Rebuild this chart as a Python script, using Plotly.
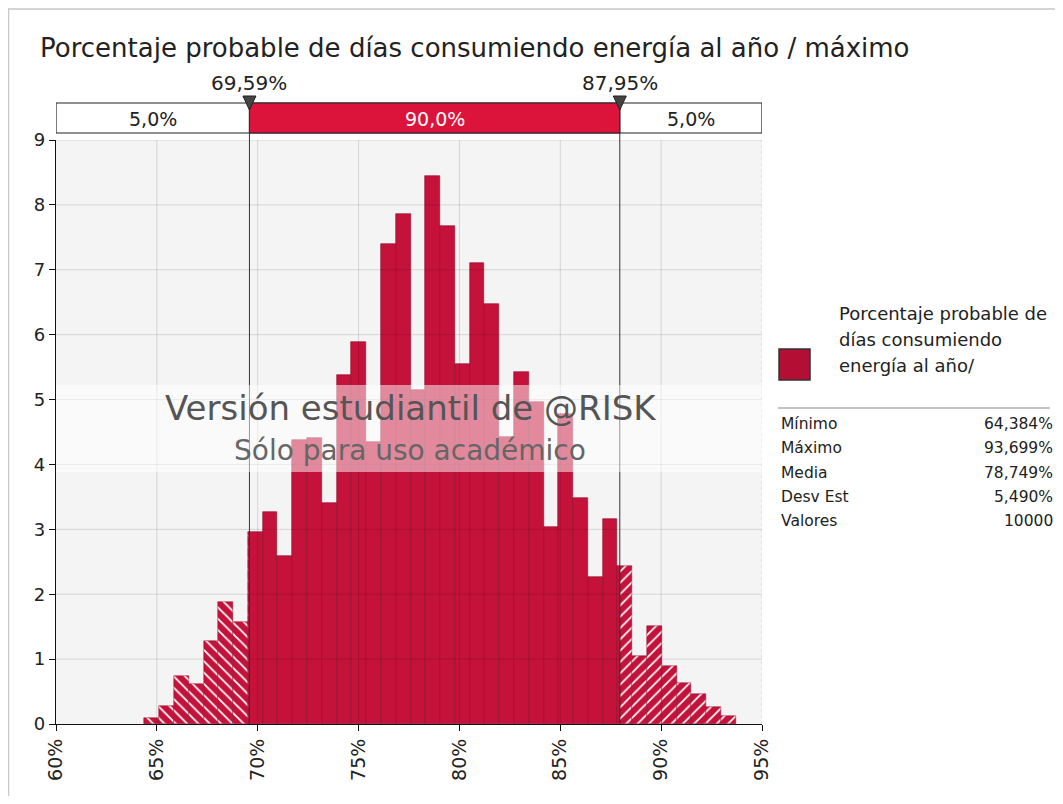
import plotly.graph_objects as go

# ---------------- data ----------------
title_text = "Porcentaje probable de días consumiendo energía al año / máximo"
bin_min = 64.384
bin_max = 93.699
n_bins = 40
densities = [0.10, 0.28, 0.74, 0.62, 1.28, 1.88, 1.57, 2.96, 3.27, 2.59,
             4.37, 4.41, 3.40, 5.38, 5.88, 4.35, 7.40, 7.86, 5.15, 8.45,
             7.67, 5.55, 7.11, 6.47, 4.42, 5.42, 4.96, 3.03, 4.77, 3.49,
             2.26, 3.16, 2.44, 1.05, 1.51, 0.90, 0.63, 0.47, 0.26, 0.13]
delimiters = [69.59, 87.95]
delimiter_labels = ["69,59%", "87,95%"]
region_labels = ["5,0%", "90,0%", "5,0%"]
x_ticks = [60, 65, 70, 75, 80, 85, 90, 95]
x_ticklabels = ["60%", "65%", "70%", "75%", "80%", "85%", "90%", "95%"]
y_ticks = [0, 1, 2, 3, 4, 5, 6, 7, 8, 9]
legend_name = ["Porcentaje probable de", "días consumiendo", "energía al año/"]
stat_names = ["Mínimo", "Máximo", "Media", "Desv Est", "Valores"]
stat_values = ["64,384%", "93,699%", "78,749%", "5,490%", "10000"]
watermark = ["Versión estudiantil de @RISK", "Sólo para uso académico"]

# ---------------- geometry (page pixels; page has an 8px body margin) ----------------
PAGE_W, PAGE_H = 1063, 804
OFF = 8
W, H = PAGE_W - 2 * OFF, PAGE_H - 2 * OFF
L, R, T, B = 56, 762, 140, 724          # plot area in page pixels
XMIN, XMAX, YMIN, YMAX = 60, 95, 0, 9


def px(x):
    return (x - L) / (R - L)


def py(y):
    return (B - y) / (B - T)


RED = "#c5123b"
EDGE = "#8c0a26"
FONT = "DejaVu Sans"
TXT = "#222"

bw = (bin_max - bin_min) / n_bins
d1, d2 = delimiters
segs = {"left": ([], [], []), "mid": ([], [], []), "right": ([], [], [])}
for i, h in enumerate(densities):
    lo = bin_min + i * bw
    hi = lo + bw
    parts = [("left", lo, min(hi, d1)), ("mid", max(lo, d1), min(hi, d2)),
             ("right", max(lo, d2), hi)]
    for key, a, b in parts:
        if b > a:
            segs[key][0].append((a + b) / 2)
            segs[key][1].append(b - a)
            segs[key][2].append(h)

fig = go.Figure()
for key, shape in (("left", "\\"), ("right", "/")):
    xs, ws, hs = segs[key]
    fig.add_trace(go.Bar(x=xs, y=hs, width=ws, showlegend=False,
                         marker=dict(color=RED, line=dict(color=EDGE, width=0.5),
                                     pattern=dict(shape=shape, fgcolor="white", bgcolor=RED,
                                                  size=8, solidity=0.22, fillmode="replace")),
                         hoverinfo="skip"))
xs, ws, hs = segs["mid"]
fig.add_trace(go.Bar(x=xs, y=hs, width=ws, showlegend=False,
                     marker=dict(color=RED, line=dict(color=EDGE, width=0.6)),
                     hoverinfo="skip"))

shapes = []
# grid lines drawn on top of bars (as in the reference)
for yv in y_ticks[1:]:
    shapes.append(dict(type="line", xref="paper", yref="y", x0=0, x1=1, y0=yv, y1=yv,
                       line=dict(color="rgba(0,0,0,0.13)", width=1), layer="above"))
for xv in x_ticks[1:-1]:
    shapes.append(dict(type="line", xref="x", yref="paper", x0=xv, x1=xv, y0=0, y1=1,
                       line=dict(color="rgba(0,0,0,0.13)", width=1), layer="above"))
shapes.append(dict(type="line", xref="x", yref="paper", x0=XMAX, x1=XMAX, y0=0, y1=1,
                   line=dict(color="rgba(0,0,0,0.15)", width=1, dash="dot"), layer="above"))

# delimiter bar at top
bar_y0, bar_y1 = py(133), py(103)
shapes.append(dict(type="rect", xref="x", yref="paper", x0=XMIN, x1=XMAX, y0=bar_y0, y1=bar_y1,
                   fillcolor="white", line=dict(color="#222", width=1.2), layer="above"))
shapes.append(dict(type="rect", xref="x", yref="paper", x0=d1, x1=d2, y0=bar_y0, y1=bar_y1,
                   fillcolor="#dc143c", line=dict(color="#222", width=1.2), layer="above"))
for d in delimiters:
    shapes.append(dict(type="line", xref="x", yref="paper", x0=d, x1=d, y0=0, y1=bar_y1,
                       line=dict(color="#333", width=1), layer="above"))
    # delimiter triangle (pixel-sized, anchored at the delimiter value)
    shapes.append(dict(type="path", xref="x", yref="paper", xsizemode="pixel", ysizemode="pixel",
                       xanchor=d, yanchor=py(110), path="M -6.5,14 L 6.5,14 L 0,0 Z",
                       fillcolor="#444", line=dict(color="#222", width=1), layer="above"))

# watermark band
shapes.append(dict(type="rect", xref="paper", yref="paper", x0=0, x1=px(772), y0=py(472), y1=py(385),
                   fillcolor="rgba(255,255,255,0.5)", line=dict(width=0), layer="above"))

# legend swatch and separator
shapes.append(dict(type="rect", xref="paper", yref="paper", x0=px(779), x1=px(810), y0=py(380), y1=py(349),
                   fillcolor="#b30f34", line=dict(color="#333", width=1.5), layer="above"))
shapes.append(dict(type="line", xref="paper", yref="paper", x0=px(778), x1=px(1050), y0=py(408), y1=py(408),
                   line=dict(color="#888", width=1.2), layer="above"))
# outer frame
shapes.append(dict(type="rect", xref="paper", yref="paper", x0=px(8.5), x1=px(1075), y0=py(815), y1=py(9),
                   fillcolor="rgba(0,0,0,0)", line=dict(color="#c8c8c8", width=1.5), layer="below"))

annotations = []
annotations.append(dict(text=title_text, xref="paper", yref="paper", x=px(38), y=py(48),
                        xanchor="left", yanchor="middle", showarrow=False,
                        font=dict(family=FONT, size=26, color=TXT)))
for d, lab in zip(delimiters, delimiter_labels):
    annotations.append(dict(text=lab, xref="x", yref="paper", x=d, y=py(83), xanchor="center",
                            yanchor="middle", showarrow=False, font=dict(family=FONT, size=20, color=TXT)))
centers = [(XMIN + d1) / 2, (d1 + d2) / 2, (d2 + XMAX) / 2]
for c, lab, col in zip(centers, region_labels, [TXT, "white", TXT]):
    annotations.append(dict(text=lab, xref="x", yref="paper", x=c, y=py(119), xanchor="center",
                            yanchor="middle", showarrow=False, font=dict(family=FONT, size=19, color=col)))
annotations.append(dict(text=watermark[0], xref="paper", yref="paper", x=px(411), y=py(408),
                        xanchor="center", yanchor="middle", showarrow=False,
                        font=dict(family=FONT, size=34, color="#555")))
annotations.append(dict(text=watermark[1], xref="paper", yref="paper", x=px(410), y=py(450),
                        xanchor="center", yanchor="middle", showarrow=False,
                        font=dict(family=FONT, size=28, color="#666")))
for i, line in enumerate(legend_name):
    annotations.append(dict(text=line, xref="paper", yref="paper", x=px(837), y=py(313 + 26 * i),
                            xanchor="left", yanchor="middle", showarrow=False,
                            font=dict(family=FONT, size=18, color=TXT)))
for i, (n, v) in enumerate(zip(stat_names, stat_values)):
    yy = py(424 + 24.3 * i)
    annotations.append(dict(text=n, xref="paper", yref="paper", x=px(779), y=yy, xanchor="left",
                            yanchor="middle", showarrow=False, font=dict(family=FONT, size=15.5, color=TXT)))
    annotations.append(dict(text=v, xref="paper", yref="paper", x=px(1055), y=yy, xanchor="right",
                            yanchor="middle", showarrow=False, font=dict(family=FONT, size=15.5, color=TXT)))

fig.update_layout(
    width=W, height=H,
    margin=dict(l=L - OFF, r=PAGE_W - OFF - R, t=T - OFF, b=PAGE_H - OFF - B),
    paper_bgcolor="white", plot_bgcolor="#f4f4f4",
    bargap=0, barmode="overlay",
    shapes=shapes, annotations=annotations,
    font=dict(family=FONT, size=14, color=TXT),
)
fig.update_xaxes(range=[XMIN, XMAX], tickvals=x_ticks, ticktext=x_ticklabels, tickangle=-90,
                 showgrid=False, zeroline=False, showline=True, linecolor="#111", linewidth=1.2,
                 ticks="outside", ticklen=6, tickcolor="#111", tickfont=dict(family=FONT, size=19, color=TXT))
fig.update_yaxes(range=[YMIN, YMAX], tickvals=y_ticks, showgrid=False, zeroline=False,
                 showline=True, linecolor="#111", linewidth=1.2,
                 ticks="outside", ticklen=6, tickcolor="#111", tickfont=dict(family=FONT, size=18, color=TXT))

fig.write_html("out.html")
